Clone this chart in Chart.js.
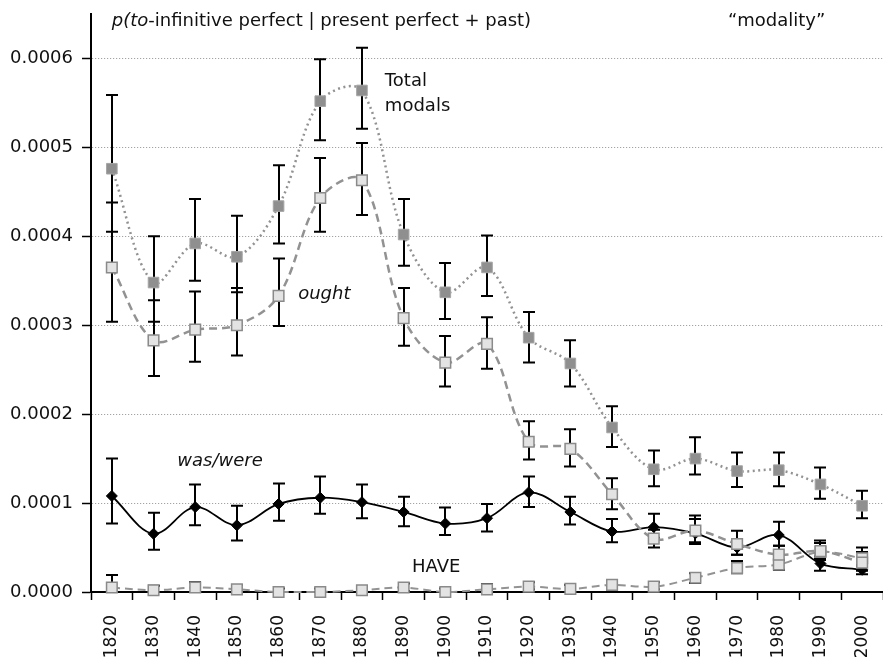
<!DOCTYPE html>
<html>
<head>
<meta charset="utf-8">
<script src="https://cdn.jsdelivr.net/npm/chart.js@4/dist/chart.umd.min.js"></script>
<style>
  html, body { margin: 0; padding: 0; background: #fff; }
  #wrap { width: 883px; height: 664px; }
</style>
</head>
<body>
<div id="wrap"><canvas id="c" width="883" height="664"></canvas></div>
<script>
// Decades on the x axis
const decades = ['1820','1830','1840','1850','1860','1870','1880','1890','1900','1910',
                 '1920','1930','1940','1950','1960','1970','1980','1990','2000'];

// y tick values
const yTicks = [0, 1e-4, 2e-4, 3e-4, 4e-4, 5e-4, 6e-4];

// Total modals: estimate with lower / upper interval bounds
const totalModals = [4.76e-4, 3.48e-4, 3.92e-4, 3.77e-4, 4.34e-4, 5.52e-4, 5.64e-4, 4.02e-4, 3.37e-4, 3.65e-4,
                     2.86e-4, 2.57e-4, 1.85e-4, 1.38e-4, 1.50e-4, 1.36e-4, 1.37e-4, 1.21e-4, 0.97e-4];
const totalUpper  = [5.59e-4, 4.00e-4, 4.42e-4, 4.23e-4, 4.80e-4, 5.99e-4, 6.12e-4, 4.42e-4, 3.70e-4, 4.01e-4,
                     3.15e-4, 2.83e-4, 2.09e-4, 1.59e-4, 1.74e-4, 1.57e-4, 1.57e-4, 1.40e-4, 1.14e-4];
const totalLower  = [4.05e-4, 3.04e-4, 3.50e-4, 3.37e-4, 3.92e-4, 5.08e-4, 5.21e-4, 3.67e-4, 3.07e-4, 3.33e-4,
                     2.58e-4, 2.31e-4, 1.63e-4, 1.19e-4, 1.32e-4, 1.18e-4, 1.19e-4, 1.05e-4, 0.83e-4];

// ought
const ought      = [3.65e-4, 2.83e-4, 2.95e-4, 3.00e-4, 3.33e-4, 4.43e-4, 4.63e-4, 3.08e-4, 2.58e-4, 2.79e-4,
                    1.69e-4, 1.61e-4, 1.10e-4, 0.60e-4, 0.69e-4, 0.54e-4, 0.42e-4, 0.46e-4, 0.33e-4];
const oughtUpper = [4.38e-4, 3.28e-4, 3.38e-4, 3.42e-4, 3.75e-4, 4.88e-4, 5.05e-4, 3.42e-4, 2.88e-4, 3.09e-4,
                    1.92e-4, 1.83e-4, 1.28e-4, 0.70e-4, 0.86e-4, 0.69e-4, 0.52e-4, 0.58e-4, 0.45e-4];
const oughtLower = [3.04e-4, 2.43e-4, 2.59e-4, 2.66e-4, 2.99e-4, 4.05e-4, 4.24e-4, 2.77e-4, 2.31e-4, 2.51e-4,
                    1.49e-4, 1.41e-4, 0.93e-4, 0.50e-4, 0.54e-4, 0.42e-4, 0.33e-4, 0.37e-4, 0.24e-4];

// was/were
const wasWere      = [1.08e-4, 0.655e-4, 0.955e-4, 0.75e-4, 0.99e-4, 1.06e-4, 1.01e-4, 0.90e-4, 0.77e-4, 0.83e-4,
                      1.12e-4, 0.90e-4, 0.68e-4, 0.73e-4, 0.66e-4, 0.50e-4, 0.64e-4, 0.32e-4, 0.25e-4];
const wasWereUpper = [1.50e-4, 0.89e-4, 1.21e-4, 0.97e-4, 1.22e-4, 1.30e-4, 1.21e-4, 1.07e-4, 0.95e-4, 0.99e-4,
                      1.30e-4, 1.07e-4, 0.82e-4, 0.88e-4, 0.82e-4, 0.58e-4, 0.79e-4, 0.40e-4, 0.31e-4];
const wasWereLower = [0.77e-4, 0.475e-4, 0.75e-4, 0.58e-4, 0.80e-4, 0.88e-4, 0.83e-4, 0.74e-4, 0.64e-4, 0.68e-4,
                      0.955e-4, 0.76e-4, 0.56e-4, 0.61e-4, 0.56e-4, 0.42e-4, 0.52e-4, 0.24e-4, 0.20e-4];

// HAVE
const have      = [0.05e-4, 0.02e-4, 0.05e-4, 0.03e-4, 0.00e-4, 0.00e-4, 0.02e-4, 0.05e-4, 0.00e-4, 0.03e-4,
                   0.06e-4, 0.035e-4, 0.08e-4, 0.06e-4, 0.16e-4, 0.27e-4, 0.31e-4, 0.45e-4, 0.38e-4];
const haveUpper = [0.19e-4, 0.07e-4, 0.11e-4, 0.08e-4, 0.04e-4, 0.04e-4, 0.065e-4, 0.095e-4, 0.04e-4, 0.09e-4,
                   0.11e-4, 0.08e-4, 0.13e-4, 0.11e-4, 0.21e-4, 0.35e-4, 0.36e-4, 0.55e-4, 0.50e-4];
const haveLower = [0.00e-4, 0.00e-4, 0.00e-4, 0.00e-4, 0.00e-4, 0.00e-4, 0.00e-4, 0.01e-4, 0.00e-4, 0.00e-4,
                   0.03e-4, 0.00e-4, 0.04e-4, 0.03e-4, 0.10e-4, 0.21e-4, 0.25e-4, 0.36e-4, 0.29e-4];

const FONT = '"DejaVu Sans", "Liberation Sans", sans-serif';

// Text notes placed in data coordinates (category index, value)
const notes = [
  { parts: [['p(to', 'italic'], ['-infinitive perfect | present perfect + past)', 'normal']], at: [0, 6.36e-4] },
  { parts: [['\u201Cmodality\u201D', 'normal']], at: [14.78, 6.36e-4] },
  { parts: [['Total', 'normal']], at: [6.55, 5.69e-4] },
  { parts: [['modals', 'normal']], at: [6.55, 5.41e-4] },
  { parts: [['ought', 'italic']], at: [4.47, 3.30e-4] },
  { parts: [['was/were', 'italic']], at: [1.57, 1.42e-4] },
  { parts: [['HAVE', 'normal']], at: [7.2, 0.23e-4] }
];

// Vertical interval bars with caps, drawn behind the markers
const errorBars = {
  id: 'errorBars',
  beforeDatasetsDraw(chart) {
    const { ctx, scales: { x, y } } = chart;
    const ranges = [
      [totalLower, totalUpper], [oughtLower, oughtUpper],
      [wasWereLower, wasWereUpper], [haveLower, haveUpper]
    ];
    ctx.save();
    ctx.strokeStyle = '#000';
    ctx.lineWidth = 2;
    ctx.lineCap = 'butt';
    const cap = 6;
    ranges.forEach(([lo, hi]) => {
      lo.forEach((l, i) => {
        const px = Math.round(x.getPixelForValue(i));
        const yLo = y.getPixelForValue(l);
        const yHi = y.getPixelForValue(hi[i]);
        ctx.beginPath();
        ctx.moveTo(px, yLo); ctx.lineTo(px, yHi);
        ctx.moveTo(px - cap, yHi); ctx.lineTo(px + cap, yHi);
        if (l > 0) { ctx.moveTo(px - cap, yLo); ctx.lineTo(px + cap, yLo); }
        ctx.stroke();
      });
    });
    ctx.restore();
  }
};

const textNotes = {
  id: 'textNotes',
  afterDatasetsDraw(chart) {
    const { ctx, scales: { x, y } } = chart;
    ctx.save();
    ctx.fillStyle = '#111';
    ctx.textBaseline = 'alphabetic';
    ctx.textAlign = 'left';
    notes.forEach(n => {
      let px = x.getPixelForValue(n.at[0]);
      const py = y.getPixelForValue(n.at[1]);
      n.parts.forEach(([txt, style]) => {
        ctx.font = style + ' 18px ' + FONT;
        ctx.fillText(txt, px, py);
        px += ctx.measureText(txt).width;
      });
    });
    ctx.restore();
  }
};

const squareHollow = { pointStyle: 'rect', pointRadius: 7.5, pointHoverRadius: 7.5,
  pointBackgroundColor: '#e3e3e3', pointBorderColor: '#8a8a8a', pointBorderWidth: 1.5 };

new Chart(document.getElementById('c'), {
  type: 'line',
  data: {
    labels: decades,
    datasets: [
      {
        label: 'Total modals', data: totalModals,
        borderColor: '#929292', borderWidth: 2.5, borderDash: [2, 3.5],
        pointStyle: 'rect', pointRadius: 7.5, pointHoverRadius: 7.5,
        pointBackgroundColor: '#8f8f8f', pointBorderColor: '#a6a6a6', pointBorderWidth: 1,
        tension: 0.35, clip: false
      },
      Object.assign({
        label: 'ought', data: ought,
        borderColor: '#929292', borderWidth: 2.5, borderDash: [8, 5],
        tension: 0.35, clip: false
      }, squareHollow),
      {
        label: 'was/were', data: wasWere,
        borderColor: '#000', borderWidth: 1.8,
        pointStyle: 'rectRot', pointRadius: 5.5, pointHoverRadius: 5.5,
        pointBackgroundColor: '#000', pointBorderColor: '#000', pointBorderWidth: 1,
        tension: 0.35, clip: false
      },
      Object.assign({
        label: 'HAVE', data: have,
        borderColor: '#939393', borderWidth: 2, borderDash: [8, 5],
        tension: 0.35, clip: false
      }, squareHollow)
    ]
  },
  options: {
    responsive: false,
    animation: false,
    devicePixelRatio: 1,
    layout: { autoPadding: false, padding: { top: 14, right: 0, left: 0, bottom: 0 } },
    plugins: { legend: { display: false }, tooltip: { enabled: false } },
    scales: {
      x: {
        offset: true,
        grid: { display: true, drawOnChartArea: false, drawTicks: true, offset: true,
                tickLength: 8, tickColor: '#000', tickWidth: 1.5, tickBorderDash: [] },
        border: { display: true, color: '#000', width: 2 },
        ticks: { color: '#111', font: { family: FONT, size: 17 }, minRotation: 90, maxRotation: 90,
                 padding: 15, autoSkip: false },
        afterFit(scale) {
          scale.height = 72;
          scale.paddingLeft = 0; scale.paddingRight = 0;
        }
      },
      y: {
        min: 0, max: 6.5e-4,
        grid: { color: '#a3a3a3', lineWidth: 1, drawTicks: true, tickLength: 9,
                tickColor: '#000', tickWidth: 1.5, tickBorderDash: [] },
        border: { display: true, color: '#000', width: 2, dash: [1.2, 1.8] },
        ticks: { color: '#111', font: { family: FONT, size: 18 }, padding: 9,
                 stepSize: 1e-4, callback: v => v.toFixed(4) },
        afterBuildTicks(scale) { scale.ticks = yTicks.map(v => ({ value: v })); },
        afterFit(scale) {
          scale.width = 91;
          scale.paddingTop = 0; scale.paddingBottom = 0;
        }
      }
    }
  },
  plugins: [errorBars, textNotes]
});
</script>
</body>
</html>
